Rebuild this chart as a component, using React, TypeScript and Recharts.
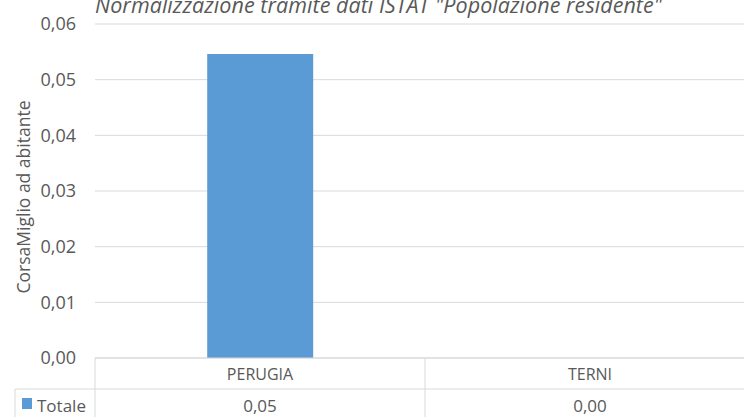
import React from 'react';
import { BarChart, Bar, XAxis, YAxis, CartesianGrid, Label } from 'recharts';

const categories = ['PERUGIA', 'TERNI'];
const totale = [0.0546, 0];
const yTicks = [0, 0.01, 0.02, 0.03, 0.04, 0.05, 0.06];
const seriesName = 'Totale';
const title = 'Normalizzazione tramite dati ISTAT "Popolazione residente"';
const yTitle = 'CorsaMiglio ad abitante';

const data = categories.map((c, i) => ({ name: c, Totale: totale[i] }));

const FONT = '"Open Sans", sans-serif';
const TEXT = '#595959';
const LINE = '#d9d9d9';
const BAR = '#5b9bd5';
const CHART_H = 420;
const ROW_H = 31; // height of the category row in the data table

const fmt = (v: number) => v.toFixed(2).replace('.', ',');

// draws category header, value cell and the table borders under the plot
const TableTick = (props: any) => {
  const { x, y, payload, index } = props;
  const half = payload.offset || 0;
  const left = x - half;
  const right = x + half;
  const rowY = y + ROW_H;
  const val = totale[categories.indexOf(payload.value)];
  return (
    <g fontFamily={FONT} fill={TEXT}>
      <line x1={right} y1={y} x2={right} y2={CHART_H} stroke={LINE} />
      <line x1={index === 0 ? 15 : left} y1={rowY} x2={right} y2={rowY} stroke={LINE} />
      {index === 0 && (
        <g>
          <line x1={left} y1={y} x2={left} y2={CHART_H} stroke={LINE} />
          <line x1={15} y1={rowY} x2={15} y2={CHART_H} stroke={LINE} />
          <rect x={22} y={rowY + 9} width={10} height={11} fill={BAR} />
          <text x={37} y={rowY + 16} fontSize={17} dominantBaseline="central" fill={TEXT}>
            {seriesName}
          </text>
        </g>
      )}
      <text x={x} y={y + 16} fontSize={16} textAnchor="middle" dominantBaseline="central" fill={TEXT}>
        {payload.value}
      </text>
      <text x={x} y={rowY + 16} fontSize={17} textAnchor="middle" dominantBaseline="central" fill={TEXT}>
        {fmt(val)}
      </text>
    </g>
  );
};

const YTitle = (props: any) => {
  const vb = props.viewBox || { x: 0, y: 0, height: 0 };
  const cx = 23;
  const cy = vb.y + vb.height / 2 + 6;
  return (
    <text
      x={cx}
      y={cy}
      transform={`rotate(-90, ${cx}, ${cy})`}
      textAnchor="middle"
      dominantBaseline="central"
      fontFamily={FONT}
      fontSize={17.5}
      fill={TEXT}
    >
      {yTitle}
    </text>
  );
};

export default function App() {
  return (
    <div style={{ position: 'absolute', left: 0, top: 0, width: 744, height: 417, overflow: 'hidden', background: '#fff' }}>
      <BarChart
        width={760}
        height={CHART_H}
        data={data}
        margin={{ top: 24, right: 5, bottom: 0, left: 0 }}
        barCategoryGap="34%"
      >
        <text
          x={95}
          y={12.5}
          fontFamily={FONT}
          fontStyle="italic"
          fontSize={21.5}
          textLength={567}
          fill={TEXT}
        >
          {title}
        </text>
        <CartesianGrid vertical={false} stroke={LINE} />
        <XAxis
          dataKey="name"
          height={CHART_H - 358}
          axisLine={{ stroke: LINE }}
          tickLine={false}
          tickSize={0}
          tickMargin={0}
          interval={0}
          tick={<TableTick />}
        />
        <YAxis
          width={95}
          domain={[0, 0.06]}
          ticks={yTicks}
          tickFormatter={fmt}
          axisLine={false}
          tickLine={false}
          tickSize={0}
          tickMargin={19}
          tick={{ fill: TEXT, fontSize: 18, fontFamily: FONT }}
        >
          <Label content={<YTitle />} />
        </YAxis>
        <Bar dataKey="Totale" fill={BAR} isAnimationActive={false} />
      </BarChart>
    </div>
  );
}
